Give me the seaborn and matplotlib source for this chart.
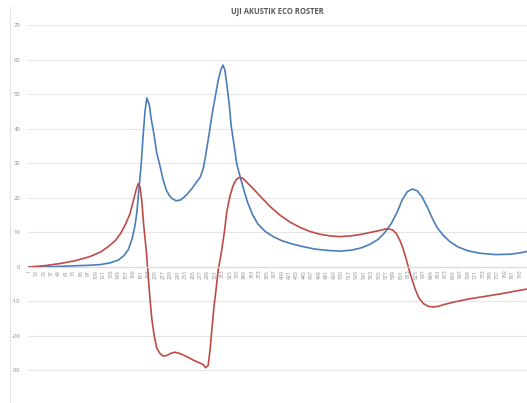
import matplotlib
matplotlib.use("Agg")
import matplotlib.pyplot as plt
from matplotlib.lines import Line2D
import pandas as pd
import seaborn as sns

# Sample numbers and measured values for the two traces
blue_idx = [1, 35, 67, 99, 116, 132, 145, 154, 161, 167, 172, 175, 178, 182,
            185, 188, 191, 195, 198, 203, 207, 212, 217, 222, 227, 232, 238,
            245, 251, 257, 264, 270, 277, 282, 286, 291, 296, 301, 306, 311,
            314, 317, 320, 324, 327, 332, 336, 341, 348, 354, 362, 370, 382,
            395, 409, 425, 443, 462, 483, 503, 522, 538, 551, 564, 575, 585,
            595, 603, 611, 619, 627, 635, 643, 651, 659, 669, 680, 693, 709,
            728, 753, 777, 793, 804, 815]
blue_val = [0.0, 0.1, 0.3, 0.5, 0.7, 1.2, 2.0, 3.3, 5.0, 8.0, 12.0, 16.0,
            22.0, 30.0, 38.0, 45.0, 49.0, 47.0, 43.0, 38.0, 33.0, 29.5, 25.5,
            22.5, 20.8, 19.8, 19.2, 19.4, 20.2, 21.3, 22.8, 24.3, 26.0, 28.5,
            32.5, 38.0, 44.0, 49.0, 54.0, 57.5, 58.5, 57.0, 53.0, 47.0, 41.0,
            35.0, 30.0, 26.5, 22.0, 18.5, 15.0, 12.5, 10.3, 8.8, 7.6, 6.7,
            5.9, 5.2, 4.8, 4.6, 4.9, 5.6, 6.6, 8.0, 10.0, 12.5, 16.0, 19.5,
            21.8, 22.6, 22.1, 20.3, 17.5, 14.3, 11.5, 9.2, 7.3, 5.8, 4.7, 4.0,
            3.6, 3.7, 4.1, 4.5, 4.8]

red_idx = [1, 27, 51, 75, 99, 116, 128, 140, 149, 157, 164, 169, 174, 177,
           180, 183, 186, 190, 193, 196, 199, 203, 207, 212, 217, 224, 230,
           236, 243, 251, 259, 267, 275, 282, 286, 290, 293, 296, 299, 303,
           306, 311, 316, 320, 325, 330, 335, 340, 345, 351, 361, 374, 390,
           406, 422, 438, 454, 470, 487, 503, 519, 535, 551, 567, 578, 587,
           593, 599, 604, 609, 614, 619, 624, 630, 637, 645, 653, 661, 672,
           688, 712, 737, 761, 785, 804, 815]
red_val = [0.0, 0.4, 1.0, 1.8, 3.0, 4.3, 5.8, 7.6, 9.8, 12.5, 15.5, 19.0,
           22.5, 24.1, 23.2, 19.0, 12.0, 5.0, -2.0, -9.0, -15.0, -20.0, -23.5,
           -25.0, -25.8, -25.6, -25.0, -24.7, -25.0, -25.6, -26.3, -27.1,
           -27.7, -28.3, -29.2, -28.5, -24.0, -18.0, -12.0, -6.0, -1.0, 4.0,
           10.0, 16.0, 20.5, 23.5, 25.3, 25.9, 25.8, 24.8, 23.0, 20.5, 17.5,
           15.0, 13.0, 11.5, 10.3, 9.5, 9.0, 8.8, 9.0, 9.4, 10.0, 10.6, 11.1,
           10.8, 9.8, 7.8, 5.5, 2.5, -0.8, -3.8, -6.5, -9.0, -10.6, -11.4,
           -11.6, -11.4, -10.8, -10.1, -9.2, -8.5, -7.8, -7.0, -6.4, -6.2]

# Category labels along the horizontal axis
x_tick_labels = ["1", "13", "25", "37", "49", "61", "73", "85", "97", "109",
                 "121", "133", "145", "157", "169", "181", "193", "205", "217",
                 "229", "241", "253", "265", "277", "289", "301", "313", "325",
                 "337", "349", "361", "373", "385", "397", "409", "421", "433",
                 "445", "457", "469", "481", "493", "505", "517", "529", "541",
                 "553", "565", "577", "589", "601", "613", "625", "637", "649",
                 "661", "673", "685", "697", "709", "721", "733", "745", "757",
                 "769", "781", "793"]
y_ticks = [-40, -30, -20, -10, 0, 10, 20, 30, 40, 50, 60, 70]

sns.set_theme(style="white")
plt.rcParams["font.family"] = ["Open Sans", "DejaVu Sans"]

blue_df = pd.DataFrame({"sample": blue_idx, "value": blue_val})
red_df = pd.DataFrame({"sample": red_idx, "value": red_val})

fig = plt.figure(figsize=(5.27, 4.03), dpi=100)
ax = fig.add_axes([28.4 / 527, -2.0 / 403, 1.0, 0.9417])

sns.lineplot(data=blue_df, x="sample", y="value", ax=ax, color="#4a7ebb",
             linewidth=1.2, estimator=None, sort=False)
sns.lineplot(data=red_df, x="sample", y="value", ax=ax, color="#be4b48",
             linewidth=1.2, estimator=None, sort=False)

# category axis crosses the value axis at zero
for side in ["top", "right", "left"]:
    ax.spines[side].set_visible(False)
ax.spines["bottom"].set_position(("data", 0))
ax.spines["bottom"].set_color("#d9d9d9")
ax.spines["bottom"].set_linewidth(0.8)
ax.set_xlabel("")
ax.set_ylabel("")

ax.set_xlim(0, 850)
ax.set_ylim(-40, 70)
ax.set_yticks(y_ticks)
ax.set_yticklabels([str(v) for v in y_ticks], fontsize=4.2, color="#8a8a8a")
ax.yaxis.grid(True, color="#e6e6e6", linewidth=0.8)
ax.set_axisbelow(True)

tick_pos = [int(s) for s in x_tick_labels]
ax.set_xticks(tick_pos)
ax.set_xticklabels(x_tick_labels, rotation=90, fontsize=3.7, color="#8a8a8a")
ax.tick_params(axis="x", length=0, pad=2)
ax.tick_params(axis="y", length=0, pad=6)

fig.text(277 / 527, 1 - 11 / 403, "UJI AKUSTIK ECO ROSTER", ha="center",
         va="center", fontsize=5.5, fontweight="bold", color="#595959")
fig.add_artist(Line2D([10 / 527, 10 / 527], [0, 1 - 7 / 403],
                      transform=fig.transFigure, color="#e3e3e3", linewidth=0.8))

fig.savefig("out.png", dpi=100, facecolor="white")
